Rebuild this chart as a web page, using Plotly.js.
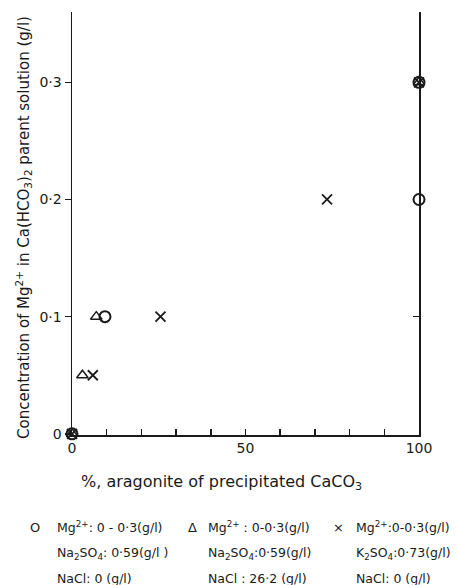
<!DOCTYPE html>
<html><head><meta charset="utf-8">
<script src="https://cdn.plot.ly/plotly-3.0.1.min.js"></script>
<style>html,body{margin:0;padding:0;background:#fff}</style>
</head><body>
<div id="chart" style="width:458px;height:585px"></div>
<script>
// Series: Na2SO4 0.59, NaCl 0 (circles)
const circleX = [0, 9.5, 100, 100];
const circleY = [0, 0.1, 0.2, 0.3];
// Series: Na2SO4 0.59, NaCl 26.2 (triangles)
const triX = [0, 3, 7, 100];
const triY = [0, 0.05, 0.1, 0.3];
// Series: K2SO4 0.73, NaCl 0 (crosses)
const crossX = [0, 6, 25.5, 73.5, 100];
const crossY = [0, 0.05, 0.1, 0.2, 0.3];

const xTickVals = [0,10,20,30,40,50,60,70,80,90,100];
const xTickText = ['0','','','','','50','','','','','100'];
const yTickVals = [0, 0.1, 0.2, 0.3];
const yTickText = ['0', '0·1', '0·2', '0·3'];
const yRightTickVals = [0.1];

const legendCols = [
  {sym: 'O', lines: ['Mg<sup>2+</sup>: 0 - 0·3(g/l)', 'Na<sub>2</sub>SO<sub>4</sub>: 0·59(g/l )', 'NaCl: 0 (g/l)']},
  {sym: 'Δ', lines: ['Mg<sup>2+</sup> : 0-0·3(g/l)', 'Na<sub>2</sub>SO<sub>4</sub>:0·59(g/l)', 'NaCl : 26·2 (g/l)']},
  {sym: '×', lines: ['Mg<sup>2+</sup>:0-0·3(g/l)', 'K<sub>2</sub>SO<sub>4</sub>:0·73(g/l)', 'NaCl: 0 (g/l)']}
];

const FONT = 'DejaVu Sans, sans-serif';
const ink = '#1a1a1a';

const traces = [
  {x: circleX, y: circleY, mode: 'markers', type: 'scatter', cliponaxis: false,
   marker: {symbol: 'circle-open', size: 11, color: ink, line: {width: 2, color: ink}}},
  {x: triX, y: triY, mode: 'markers', type: 'scatter', cliponaxis: false,
   marker: {symbol: 'triangle-up-open', size: 10, color: ink, line: {width: 1.5, color: ink}}},
  {x: crossX, y: crossY, mode: 'markers', type: 'scatter', cliponaxis: false,
   marker: {symbol: 'x-thin-open', size: 10, color: ink, line: {width: 1.8, color: ink}}}
];

// pixel-to-paper helpers for text placement
const L = 72, R = 419, T = 12, B = 435;
const px = v => (v - L) / (R - L);
const py = v => (B - v) / (B - T);

const annotations = [
  {text: 'Concentration of Mg<sup>2+</sup> in Ca(HCO<sub>3</sub>)<sub>2</sub> parent solution (g/l)',
   xref: 'paper', yref: 'paper', x: px(23), y: py(228), textangle: -90, showarrow: false,
   font: {family: FONT, size: 15, color: ink}, xanchor: 'center', yanchor: 'middle'},
  {text: '%, aragonite of precipitated CaCO<sub>3</sub>',
   xref: 'paper', yref: 'paper', x: px(221), y: py(482), showarrow: false,
   font: {family: FONT, size: 16, color: ink}, xanchor: 'center', yanchor: 'middle'}
];
const symX = [35, 192, 338], txtX = [55, 206, 354], rowY = [527, 553, 578];
legendCols.forEach((c, i) => {
  annotations.push({text: c.sym, xref: 'paper', yref: 'paper', x: px(symX[i]), y: py(rowY[0]),
    showarrow: false, xanchor: 'center', yanchor: 'middle', font: {family: FONT, size: 13, color: ink}});
  c.lines.forEach((t, j) => {
    annotations.push({text: t, xref: 'paper', yref: 'paper', x: px(txtX[i]), y: py(rowY[j]),
      showarrow: false, xanchor: 'left', yanchor: 'middle', font: {family: FONT, size: 12.5, color: ink}});
  });
});

const layout = {
  width: 458, height: 585,
  margin: {l: L, r: 458 - R, t: T, b: 585 - B},
  paper_bgcolor: '#fff', plot_bgcolor: '#fff',
  showlegend: false,
  font: {family: FONT, color: ink},
  xaxis: {range: [0, 100], tickvals: xTickVals, ticktext: xTickText, ticks: 'inside', ticklen: 6,
    tickwidth: 1.5, tickcolor: ink, showline: true, linecolor: ink, linewidth: 1.5, showgrid: false,
    zeroline: false, tickfont: {family: FONT, size: 14, color: ink}, fixedrange: true},
  yaxis: {range: [-0.001, 0.36], tickvals: yTickVals, ticktext: yTickText, ticks: 'outside', ticklen: 6,
    tickwidth: 1.5, tickcolor: ink, showline: true, mirror: true, linecolor: ink, linewidth: 1.5,
    showgrid: false, zeroline: false, tickfont: {family: FONT, size: 14, color: ink}, fixedrange: true},
  yaxis2: {range: [-0.001, 0.36], overlaying: 'y', side: 'right', tickvals: yRightTickVals,
    ticks: 'inside', ticklen: 6, tickwidth: 1.5, tickcolor: ink, showticklabels: false,
    showline: false, showgrid: false, zeroline: false, fixedrange: true},
  annotations: annotations
};

traces.push({x: [], y: [], yaxis: 'y2', type: 'scatter', mode: 'markers', showlegend: false});

Plotly.newPlot('chart', traces, layout, {staticPlot: true});
</script>
</body></html>
